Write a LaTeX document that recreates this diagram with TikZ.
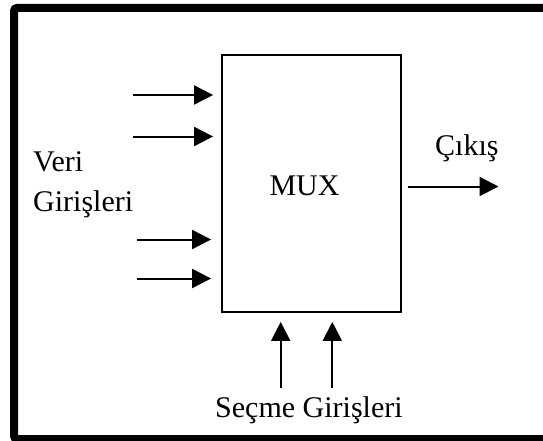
\documentclass[tikz,border=0pt]{standalone}
\usepackage{fontspec}
\setmainfont{Liberation Serif}
\usetikzlibrary{arrows.meta,positioning}
\definecolor{MuxBlack}{RGB}{0,0,0}
\tikzset{
  mux/frame/.style={
    draw=MuxBlack,
    line width=8pt,
    rounded corners=3pt
  },
  mux/box/.style={
    draw=MuxBlack,
    line width=1.8pt,
    fill=white,
    minimum width=179pt,
    minimum height=257pt,
    inner sep=0pt
  },
  mux/arrow/.style={-{Triangle[length=19pt,width=19pt]}, line width=2pt, draw=MuxBlack},
  mux/label/.style={font=\fontsize{30}{36}\selectfont, text=MuxBlack, inner sep=0pt}
}

\begin{document}
\begin{tikzpicture}[x=1pt,y=-1pt]
  \useasboundingbox (0,0) rectangle (543,441);
  \draw[mux/frame] (14,8) rectangle (552,439);
  \node[mux/box] (mux) at (311.5,183.5) {};
  \node[mux/label,anchor=base] (muxtext) at (304.5,195) {MUX};
  % data inputs
  \coordinate (d1) at (133,95);
  \coordinate (d2) at (133,136.5);
  \coordinate (d3) at (137,239.5);
  \coordinate (d4) at (137,278.5);
  \foreach \c in {d1,d2} \draw[mux/arrow,shorten >=8pt] (\c) -- (\c -| mux.west);
  \foreach \c in {d3,d4} \draw[mux/arrow,shorten >=10pt] (\c) -- (\c -| mux.west);
  \node[mux/label,anchor=base west] (veri) at (33,171.7) {Veri};
  \node[mux/label,anchor=base west] (giris) at (33,211.7) {Girişleri};
  % select inputs
  \coordinate (s1) at (280.7,388);
  \coordinate (s2) at (332.3,388);
  \foreach \c in {s1,s2} \draw[mux/arrow,shorten >=9pt] (\c) -- (\c |- mux.south);
  \node[mux/label,anchor=base west] (secme) at (215,417) {Seçme Girişleri};
  % output
  \coordinate (out) at (498.5,186.5);
  \draw[mux/arrow,shorten <=6pt] (out -| mux.east) -- (out);
  \node[mux/label,anchor=base west] (cikis) at (435,155.5) {Çıkış};
\end{tikzpicture}
\end{document}
